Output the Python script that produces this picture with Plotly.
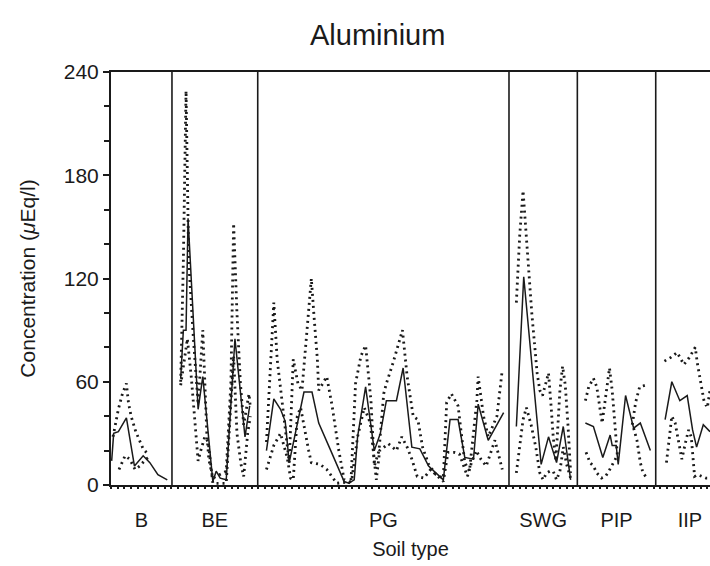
import plotly.graph_objects as go

# ---- data (sample index along x, concentration in µEq/l) ----
groups = ["B", "BE", "PG", "SWG", "PIP", "IIP"]
group_bounds = [0, 9.1, 21.9, 59.4, 69.6, 81.3, 91.5]   # sample-index limits of each soil type

y_ticks = [0, 60, 120, 180, 240]

mean_x = [0.1, 0.4, 1.1, 2.3, 3.5, 4.8, 5.8, 7.0, 8.4, None,
          10.4, 10.8, 11.2, 11.5, 13.0, 13.7, 15.2, 15.7, 16.3, 17.2, 18.5, 20.0, 20.7, None,
          23.2, 24.3, 25.3, 26.0, 26.6, 28.8, 30.0, 31.0, 32.8, 34.0, 34.8, 35.5, 36.3, 36.8,
          38.0, 39.3, 40.2, 41.1, 42.6, 43.6, 44.9, 46.1, 47.4, 49.6, 50.6, 51.8, 52.8, 54.1,
          54.8, 56.3, 58.6, None,
          60.5, 61.6, 64.2, 65.3, 66.5, 67.5, 68.6, None,
          70.8, 72.0, 73.4, 74.5, 74.8, 75.4, 75.7, 76.8, 78.0, 79.0, 80.5, None,
          82.7, 83.7, 84.9, 86.0, 86.8, 87.4, 88.4, 89.4]
mean_y = [14, 30, 31, 39, 11, 17, 13, 6, 3, None,
          62, 90, 90, 155, 44, 63, 2, 8, 4, 3, 85, 28, 46, None,
          20, 50, 44, 37, 13, 54, 54, 36, 20, 9, 2, 1, 3, 28,
          57, 20, 30, 49, 49, 68, 22, 21, 11, 3, 38, 38, 16, 15,
          47, 26, 42, None,
          34, 121, 12, 28, 13, 34, 3, None,
          36, 34, 16, 29, 23, 23, 12, 52, 33, 36, 20, None,
          38, 60, 49, 52, 32, 22, 35, 31]

upper_x = [0.3, 1.1, 1.7, 2.3, 2.6, 3.0, 3.7, 4.8, 5.5, None,
           10.4, 10.8, 11.2, 11.6, 12.3, 13.0, 13.7, 14.3, 14.6, 15.2, 16.2, 17.2, 17.9, 18.3,
           18.8, 19.3, 19.8, 20.6, 20.8, None,
           23.2, 24.3, 24.8, 25.5, 26.2, 26.6, 27.2, 27.9, 28.5, 29.9, 30.3, 30.8, 31.0, 32.2,
           33.0, 34.0, 34.8, 35.8, 36.5, 37.3, 38.0, 38.8, 39.3, 40.0, 40.7, 41.1, 42.1, 43.5,
           44.2, 45.1, 45.8, 46.5, 47.4, 48.5, 49.6, 50.1, 50.8, 51.8, 52.8, 53.5, 54.6, 54.8,
           55.6, 56.3, 57.6, 58.4, None,
           60.5, 61.0, 61.5, 62.2, 62.8, 63.6, 64.0, 64.4, 65.0, 65.3, 65.7, 66.0, 66.4, 67.0,
           67.4, 67.8, 68.2, 68.6, None,
           70.8, 71.3, 72.0, 72.5, 73.3, 73.8, 74.4, 74.8, 75.2, 75.6, None,
           77.8, 78.3, 78.9, 79.8, None,
           82.6, 83.5, 84.5, 85.5, 86.3, 87.2, 87.5, 88.0, 88.5, 89.0, 89.4]
upper_y = [28, 44, 53, 59, 48, 40, 31, 21, 18, None,
           60, 130, 229, 130, 85, 47, 90, 30, 15, 4, 6, 8, 60, 152,
           100, 60, 35, 53, 45, None,
           25, 106, 73, 49, 28, 13, 73, 59, 55, 120, 98, 73, 55, 63,
           46, 20, 3, 1, 59, 75, 81, 49, 11, 20, 53, 59, 71, 90,
           63, 40, 38, 22, 12, 6, 4, 48, 53, 46, 13, 8, 49, 63,
           40, 28, 40, 67, None,
           106, 145, 171, 135, 100, 65, 55, 52, 60, 65, 45, 28, 14, 55,
           69, 58, 35, 7, None,
           49, 57, 62, 57, 36, 50, 68, 55, 35, 16, None,
           35, 48, 57, 58, None,
           72, 74, 77, 70, 74, 80, 71, 61, 49, 45, 55]

lower_x = [1.2, 1.8, 2.1, 2.8, 3.6, 4.3, 5.2, 5.6, None,
           10.4, 10.8, 11.4, 12.0, 12.5, 13.0, 13.4, 14.0, 14.5, 15.2, 16.2, 17.2, 18.3, 18.8,
           19.4, 19.8, 20.4, 20.8, None,
           23.2, 24.3, 25.3, 26.3, 26.8, 27.2, 27.8, 28.3, 29.5, 29.9, 31.2, 32.2, 33.7, 35.9,
           36.8, 37.8, 38.7, 39.3, 39.6, 40.1, 41.4, 42.6, 43.4, 44.2, 44.9, 45.7, 46.7, 47.7,
           48.8, 49.6, 50.3, 51.2, 52.0, 52.8, 53.2, 53.8, 54.5, 55.2, 56.0, 57.3, 58.4, None,
           60.5, 61.0, 61.5, 62.0, 62.7, 63.4, 64.0, 64.5, 65.0, 65.5, 66.0, 66.5, 67.0, 67.5,
           68.0, 68.6, None,
           70.9, 71.5, 72.0, 72.5, 73.2, 73.8, 74.3, 74.8, 75.4, None,
           78.0, 78.5, 79.0, 79.4, 79.8, None,
           82.9, 83.3, 83.7, 84.2, 84.7, 85.2, 85.7, 86.2, 86.6, 87.1, 87.6, 88.2, 88.8, 89.4]
lower_y = [9, 14, 17, 15, 9, 11, 15, 16, None,
           58, 70, 85, 62, 35, 14, 20, 28, 25, 1, 1, 1, 75, 30,
           12, 5, 30, 40, None,
           9, 23, 30, 16, 4, 3, 40, 45, 20, 13, 12, 9, 1, 2,
           28, 45, 36, 13, 3, 20, 24, 20, 28, 22, 15, 5, 4, 9,
           5, 2, 19, 19, 18, 9, 5, 13, 20, 15, 11, 26, 9, None,
           7, 22, 38, 45, 35, 22, 7, 3, 7, 8, 8, 3, 8, 22,
           12, 4, None,
           19, 13, 11, 7, 4, 5, 8, 12, 16, None,
           33, 26, 13, 7, 5, None,
           13, 26, 40, 36, 26, 15, 24, 32, 28, 5, 6, 5, 4, 4]

# ---- figure ----
INK = "#1a1a1a"
FONT = "Liberation Sans, Arial, sans-serif"
X_RANGE = [0, 89.4]

fig = go.Figure()
fig.add_trace(go.Scatter(x=upper_x, y=upper_y, mode="lines", connectgaps=False,
                         line=dict(color=INK, width=2.8, dash="2px,4px"),
                         hoverinfo="skip", showlegend=False))
fig.add_trace(go.Scatter(x=lower_x, y=lower_y, mode="lines", connectgaps=False,
                         line=dict(color=INK, width=2.8, dash="2px,4px"),
                         hoverinfo="skip", showlegend=False))
fig.add_trace(go.Scatter(x=mean_x, y=mean_y, mode="lines", connectgaps=False,
                         line=dict(color=INK, width=1.5),
                         hoverinfo="skip", showlegend=False))
# invisible trace so the sample-tick axis is drawn
fig.add_trace(go.Scatter(x=[X_RANGE[0]], y=[0], xaxis="x2", mode="markers",
                         marker=dict(opacity=0), hoverinfo="skip", showlegend=False))

# separators between soil types
for b in group_bounds[1:-1]:
    fig.add_shape(type="line", xref="x", yref="paper", x0=b, x1=b, y0=0, y1=1,
                  line=dict(color=INK, width=1.6))

centers = [(group_bounds[k] + group_bounds[k + 1]) / 2 for k in range(len(groups))]

fig.update_layout(
    width=710, height=566,
    margin=dict(l=111, r=0, t=72, b=81, autoexpand=False),
    paper_bgcolor="white", plot_bgcolor="white",
    font=dict(family=FONT, color=INK, size=20),
    title=dict(text="Aluminium", x=0.532, xref="container", xanchor="center",
               y=1 - 35 / 566, yref="container", yanchor="middle",
               font=dict(size=29, family=FONT, color=INK)),
    xaxis2=dict(overlaying="x", side="bottom", range=X_RANGE, showgrid=False, zeroline=False,
                showline=False, tickmode="linear", tick0=0, dtick=1, ticks="outside",
                ticklen=3, tickwidth=1.5, tickcolor=INK, showticklabels=False),
    xaxis=dict(
        range=X_RANGE, showgrid=False, zeroline=False, automargin=False,
        showline=True, linecolor=INK, linewidth=2, mirror=True,
        tickmode="array", tickvals=centers, ticktext=groups, ticks="",
        ticklabelstandoff=16,
        tickfont=dict(size=20, family=FONT, color=INK),
        title=dict(text="Soil type", font=dict(size=20, family=FONT, color=INK), standoff=12),
    ),
)
fig.update_yaxes(
    range=[0, 240], showgrid=False, zeroline=False, automargin=False,
    showline=True, linecolor=INK, linewidth=2,
    tickmode="array", tickvals=y_ticks, ticks="outside", ticklen=6, tickwidth=1.5, tickcolor=INK,
    tickfont=dict(size=21, family=FONT, color=INK),
    minor=dict(ticks="outside", dtick=20, ticklen=5, tickwidth=1.5, tickcolor=INK),
    title=dict(text="Concentration (<i>μ</i>Eq/l)", font=dict(size=21, family=FONT, color=INK),
               standoff=22),
)

fig.write_html("out.html", config={"displayModeBar": False},
               post_script="document.body.style.margin='0';")
